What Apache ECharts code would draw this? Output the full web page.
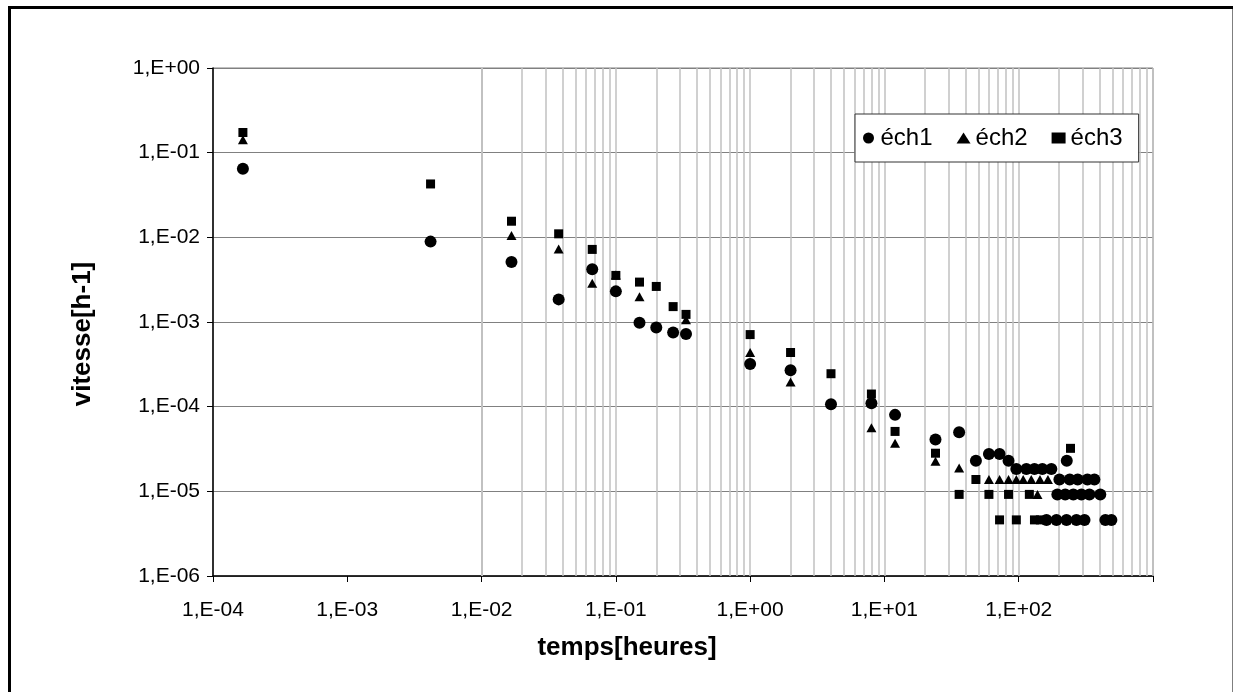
<!DOCTYPE html>
<html>
<head>
<meta charset="utf-8">
<title>vitesse / temps</title>
<script src="https://cdn.jsdelivr.net/npm/echarts@6.0.0/dist/echarts.min.js"></script>
<style>
  html,body{margin:0;padding:0;background:#fff;}
  #chart{width:1233px;height:692px;}
</style>
</head>
<body>
<div id="chart"></div>
<script>
// libellés des graduations (exposants -4..2 en x, -6..0 en y)
const xTickLabels = ['1,E-04','1,E-03','1,E-02','1,E-01','1,E+00','1,E+01','1,E+02']
const yTickLabels = ['1,E-06','1,E-05','1,E-04','1,E-03','1,E-02','1,E-01','1,E+00']

// éch1 (ronds)
const ech1Temps = [0.000167,0.00417,0.0167,0.0375,0.0667,0.1,0.15,0.2,0.267,0.333,1,2,4,8,12,24,36,48,60,72,84,
  96,114,131,150,175,228,201,240,275,325,366,194,222,255,293,336,405,161,191,227,269,309,442,490]
const ech1Vitesse = [0.0646,0.0089,0.0051,0.00185,0.0042,0.0023,0.00098,0.00086,0.00075,0.00072,0.00032,0.00027,0.000107,0.00011,0.00008,0.000041,0.00005,0.000023,0.0000276,0.0000276,0.000023,
  0.0000184,0.0000184,0.0000184,0.0000184,0.0000184,0.000023,0.0000138,0.0000138,0.0000138,0.0000138,0.0000138,
  0.0000092,0.0000092,0.0000092,0.0000092,0.0000092,0.0000092,0.0000046,0.0000046,0.0000046,0.0000046,0.0000046,0.0000046,0.0000046]

// éch2 (triangles)
const ech2Temps = [0.000167,0.0167,0.0375,0.0667,0.1,0.15,0.333,1,2,8,12,24,36,60,72,84,96,108,124,144,165,138]
const ech2Vitesse = [0.142,0.0105,0.0073,0.00286,0.0036,0.00199,0.00106,0.000436,0.000196,0.0000564,0.000037,0.0000227,0.0000189,
  0.0000138,0.0000138,0.0000138,0.0000138,0.0000138,0.0000138,0.0000138,0.0000138,0.0000092]

// éch3 (carrés)
const ech3Temps = [0.000167,0.00417,0.0167,0.0375,0.0667,0.1,0.15,0.2,0.267,0.333,1,2,4,8,12,24,36,48,60,72,84,96,120,131,145,243]
const ech3Vitesse = [0.173,0.0427,0.0155,0.011,0.0072,0.00355,0.00296,0.00263,0.00152,0.00123,0.00071,0.000436,0.000245,0.000141,0.000051,0.0000282,
  0.0000092,0.0000138,0.0000092,0.0000046,0.0000092,0.0000046,0.0000092,0.0000046,0.0000046,0.0000322]

const FONT = '"Liberation Sans", Arial, sans-serif'

function pairs(t, v){
  return t.map((x,i)=>[x, v[i]])
}

// quadrillage vertical secondaire 1..9 x 10^d
let gridX = []
for(let d=-4; d<=2; d++){
  for(let k=1; k<=9; k++){
    gridX.push(Number((k*Math.pow(10,d)).toPrecision(3)))
  }
}
gridX.push(1000)

function expOf(v){
  return Math.round(Math.log10(v))
}

let chart = echarts.init(document.getElementById('chart'), null, {renderer:'canvas'})
let option = {
  animation:false,
  backgroundColor:'#fff',
  textStyle:{fontFamily:FONT},
  grid:{
    left:213, right:80, top:68, bottom:116,
    show:true, borderColor:'#808080', borderWidth:1, backgroundColor:'transparent'
  },
  xAxis:{
    type:'log', logBase:10, min:0.0001, max:1000, splitNumber:7,
    axisLine:{onZero:false, lineStyle:{color:'#000', width:1.5}},
    axisTick:{show:true, length:6, lineStyle:{color:'#000'}},
    splitLine:{show:false},
    axisLabel:{
      margin:24, color:'#000', fontSize:21, fontFamily:FONT,
      formatter:v=>xTickLabels[expOf(v)+4] || ''
    }
  },
  yAxis:{
    type:'log', logBase:10, min:0.000001, max:1, splitNumber:6,
    axisLine:{onZero:false, lineStyle:{color:'#000', width:1.5}},
    axisTick:{show:true, length:6, lineStyle:{color:'#000'}},
    splitLine:{show:true, lineStyle:{color:'#808080', width:1}},
    axisLabel:{
      margin:13, color:'#000', fontSize:21, fontFamily:FONT,
      formatter:v=>yTickLabels[expOf(v)+6] || ''
    }
  },
  legend:{
    data:['éch1','éch2','éch3'],
    left:855, top:114, orient:'horizontal', z:20,
    itemWidth:14, itemHeight:11, itemGap:24,
    padding:[12,16,12,8],
    backgroundColor:'#fff', borderColor:'#333', borderWidth:1,
    textStyle:{fontSize:24, color:'#000', fontFamily:FONT}
  },
  series:[
    {
      name:'grille', type:'scatter', data:[], z:1, silent:true,
      markLine:{
        silent:true, z:1, symbol:['none','none'], label:{show:false},
        lineStyle:{color:'#c0c0c0', type:'solid', width:1.5},
        emphasis:{disabled:true},
        data:gridX.map(v=>({xAxis:v}))
      }
    },
    {
      name:'éch1', type:'scatter', z:10, symbol:'circle', symbolSize:12,
      itemStyle:{color:'#000', opacity:1}, data:pairs(ech1Temps, ech1Vitesse)
    },
    {
      name:'éch2', type:'scatter', z:10, symbol:'triangle', symbolSize:[10,9],
      itemStyle:{color:'#000', opacity:1}, data:pairs(ech2Temps, ech2Vitesse)
    },
    {
      name:'éch3', type:'scatter', z:10, symbol:'rect', symbolSize:9,
      itemStyle:{color:'#000', opacity:1}, data:pairs(ech3Temps, ech3Vitesse)
    }
  ],
  graphic:[
    {
      type:'rect', silent:true, z:0,
      shape:{x:9.5, y:7.5, width:1224.5, height:700},
      style:{fill:'none', stroke:'#000', lineWidth:3}
    },
    {
      type:'text', x:627, y:648,
      style:{text:'temps[heures]', fill:'#000', font:'bold 26px ' + FONT, align:'center', verticalAlign:'middle'}
    },
    {
      type:'text', x:83, y:334, rotation:Math.PI/2,
      style:{text:'vitesse[h-1]', fill:'#000', font:'bold 26px ' + FONT, align:'center', verticalAlign:'middle'}
    }
  ]
}
chart.setOption(option)
</script>
</body>
</html>
